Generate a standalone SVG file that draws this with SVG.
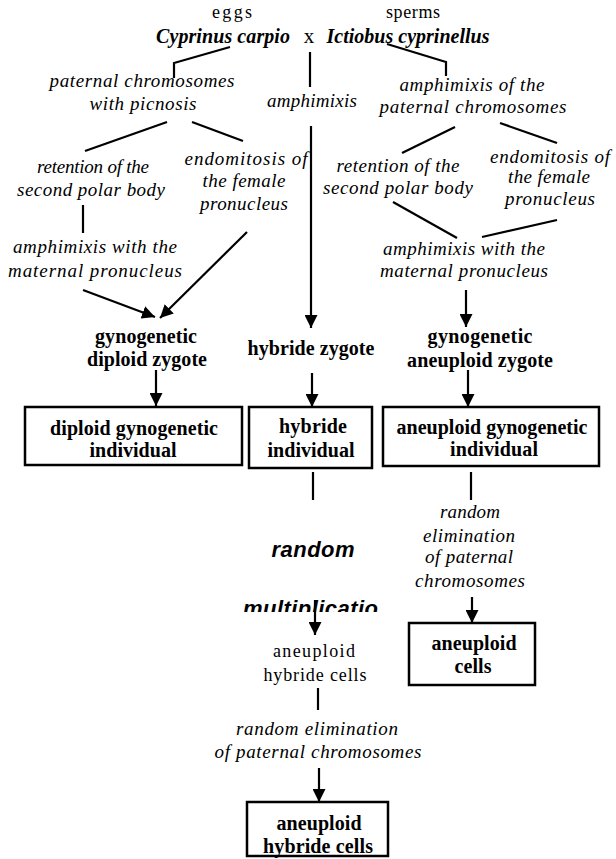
<svg xmlns="http://www.w3.org/2000/svg" width="616" height="859" viewBox="0 0 616 859">
<style>
text{font-family:"Liberation Serif","Times New Roman",serif;fill:#000;text-anchor:middle}
.r{font-size:18px}
.i{font-size:19px;font-style:italic}
.b{font-size:20px;font-weight:bold}
.bi{font-size:20px;font-weight:bold;font-style:italic}
.s{font-family:"Liberation Sans",Arial,sans-serif;font-size:22px;font-weight:bold;font-style:italic}
.ln{stroke:#000;stroke-width:2.2;fill:none}
.ar{stroke:#000;stroke-width:2.2;fill:none;marker-end:url(#ah)}
.box{fill:#fff;stroke:#000;stroke-width:2.5}
</style>
<defs>
<marker id="ah" markerUnits="userSpaceOnUse" markerWidth="14" markerHeight="13" refX="13" refY="6.5" orient="auto">
<path d="M0,0 L13,6.5 L0,13 z" fill="#000"/>
</marker>
<clipPath id="clipM"><rect x="230" y="590" width="150" height="22"/></clipPath>
</defs>

<g id="connectors">
<path class="ln" d="M230,47 L174,63 L174,78"/>
<path class="ln" d="M310,52 L310,87"/>
<path class="ln" d="M387,44 L446,62 L446,76"/>
<path class="ln" d="M167,122 L85,151"/>
<path class="ln" d="M192,122 L243,141"/>
<path class="ln" d="M83,205 L83,233"/>
<path class="ar" d="M247,232 L160,318"/>
<path class="ar" d="M83,290 L155,317"/>
<path class="ar" d="M311,126 L311,328"/>
<path class="ln" d="M455,127 L402,153"/>
<path class="ln" d="M500,123 L557,143"/>
<path class="ln" d="M393,202 L457,238"/>
<path class="ln" d="M557,220 L482,237"/>
<path class="ar" d="M466,290 L466,327"/>
<path class="ar" d="M156,370 L156,406"/>
<path class="ar" d="M312,373 L312,407"/>
<path class="ar" d="M468,370 L468,407"/>
<path class="ln" d="M313,472 L313,500"/>
<path class="ln" d="M471,472 L471,500"/>
<path class="ar" d="M472,597 L472,623"/>
<path class="ln" d="M318,688 L318,710"/>
<path class="ar" d="M319,768 L319,802"/>
</g>

<g id="header">
<text class="r" x="232" y="18" textLength="40" lengthAdjust="spacing">eggs</text>
<text class="r" x="413" y="18" textLength="54" lengthAdjust="spacing">sperms</text>
<text class="bi" x="223" y="43" textLength="134" lengthAdjust="spacing">Cyprinus carpio</text>
<text class="r" x="309" y="43" style="font-size:21px">x</text>
<text class="bi" x="408" y="43" textLength="163" lengthAdjust="spacing">Ictiobus cyprinellus</text>
</g>

<g id="n-paternal-picnosis">
<text class="i" x="142" y="87" textLength="185" lengthAdjust="spacing">paternal chromosomes</text>
<text class="i" x="143" y="110" textLength="107" lengthAdjust="spacing">with picnosis</text>
</g>
<g id="n-amphimixis">
<text class="i" x="312" y="107" textLength="90" lengthAdjust="spacing">amphimixis</text>
</g>
<g id="n-amphimixis-paternal">
<text class="i" x="472" y="91" textLength="145" lengthAdjust="spacing">amphimixis of the</text>
<text class="i" x="473" y="113" textLength="187" lengthAdjust="spacing">paternal chromosomes</text>
</g>

<g id="n-retention-L">
<text class="i" x="93" y="173" textLength="112" lengthAdjust="spacing">retention of the</text>
<text class="i" x="91" y="196" textLength="148" lengthAdjust="spacing">second polar body</text>
</g>
<g id="n-endomitosis-L">
<text class="i" x="246" y="165" textLength="123" lengthAdjust="spacing">endomitosis of</text>
<text class="i" x="244" y="187" textLength="83" lengthAdjust="spacing">the female</text>
<text class="i" x="244" y="210" textLength="88" lengthAdjust="spacing">pronucleus</text>
</g>
<g id="n-amphimixis-maternal-L">
<text class="i" x="95" y="253" textLength="164" lengthAdjust="spacing">amphimixis with the</text>
<text class="i" x="95" y="277" textLength="174" lengthAdjust="spacing">maternal pronucleus</text>
</g>

<g id="n-retention-R">
<text class="i" x="398" y="172" textLength="123" lengthAdjust="spacing">retention of the</text>
<text class="i" x="398" y="194" textLength="150" lengthAdjust="spacing">second polar body</text>
</g>
<g id="n-endomitosis-R">
<text class="i" x="550" y="163" textLength="120" lengthAdjust="spacing">endomitosis of</text>
<text class="i" x="549" y="183" textLength="82" lengthAdjust="spacing">the female</text>
<text class="i" x="550" y="205" textLength="90" lengthAdjust="spacing">pronucleus</text>
</g>
<g id="n-amphimixis-maternal-R">
<text class="i" x="464" y="255" textLength="162" lengthAdjust="spacing">amphimixis with the</text>
<text class="i" x="464" y="277" textLength="168" lengthAdjust="spacing">maternal pronucleus</text>
</g>

<g id="n-gyno-diploid-zygote">
<text class="b" x="146" y="343" textLength="102" lengthAdjust="spacing">gynogenetic</text>
<text class="b" x="147" y="366" textLength="120" lengthAdjust="spacing">diploid zygote</text>
</g>
<g id="n-hybride-zygote">
<text class="b" x="311" y="355" textLength="127" lengthAdjust="spacing">hybride zygote</text>
</g>
<g id="n-gyno-aneuploid-zygote">
<text class="b" x="480" y="343" textLength="105" lengthAdjust="spacing">gynogenetic</text>
<text class="b" x="480" y="367" textLength="146" lengthAdjust="spacing">aneuploid zygote</text>
</g>

<g id="n-diploid-individual">
<rect class="box" x="25" y="407" width="217" height="58"/>
<text class="b" x="134" y="435" textLength="168" lengthAdjust="spacing">diploid gynogenetic</text>
<text class="b" x="133" y="457" textLength="87" lengthAdjust="spacing">individual</text>
</g>
<g id="n-hybride-individual">
<rect class="box" x="249" y="407" width="123" height="61"/>
<text class="b" x="313" y="433" textLength="68" lengthAdjust="spacing">hybride</text>
<text class="b" x="311" y="457" textLength="87" lengthAdjust="spacing">individual</text>
</g>
<g id="n-aneuploid-individual">
<rect class="box" x="383" y="407" width="216" height="59"/>
<text class="b" x="492" y="434" textLength="191" lengthAdjust="spacing">aneuploid gynogenetic</text>
<text class="b" x="494" y="456" textLength="88" lengthAdjust="spacing">individual</text>
</g>

<g id="n-random-multiplication">
<text class="s" x="313" y="557" textLength="83" lengthAdjust="spacing">random</text>
<text class="s" x="243" y="616" style="text-anchor:start" clip-path="url(#clipM)" textLength="135" lengthAdjust="spacing">multiplicatio</text>
</g>
<g id="n-random-elimination-R">
<text class="i" x="470" y="518" textLength="60" lengthAdjust="spacing">random</text>
<text class="i" x="469" y="542" textLength="92" lengthAdjust="spacing">elimination</text>
<text class="i" x="469" y="563" textLength="88" lengthAdjust="spacing">of paternal</text>
<text class="i" x="470" y="587" textLength="110" lengthAdjust="spacing">chromosomes</text>
</g>
<g id="n-aneuploid-cells">
<rect class="box" x="409" y="623" width="126" height="62"/>
<text class="b" x="474" y="650" textLength="85" lengthAdjust="spacing">aneuploid</text>
<text class="b" x="473" y="673" textLength="37" lengthAdjust="spacing">cells</text>
</g>

<g id="arrow-multiplication">
<path class="ar" d="M315,600 L315,635"/>
</g>

<g id="n-aneuploid-hybride-cells-1">
<text class="r" x="314" y="657" textLength="82" lengthAdjust="spacing">aneuploid</text>
<text class="r" x="315" y="681" textLength="103" lengthAdjust="spacing">hybride cells</text>
</g>
<g id="n-random-elimination-M">
<text class="i" x="317" y="735" textLength="162" lengthAdjust="spacing">random elimination</text>
<text class="i" x="318" y="758" textLength="207" lengthAdjust="spacing">of paternal chromosomes</text>
</g>
<g id="n-aneuploid-hybride-cells-2">
<rect class="box" x="247" y="802" width="141" height="54"/>
<text class="b" x="319" y="830" textLength="85" lengthAdjust="spacing">aneuploid</text>
<text class="b" x="318" y="853" textLength="110" lengthAdjust="spacing">hybride cells</text>
</g>
</svg>
